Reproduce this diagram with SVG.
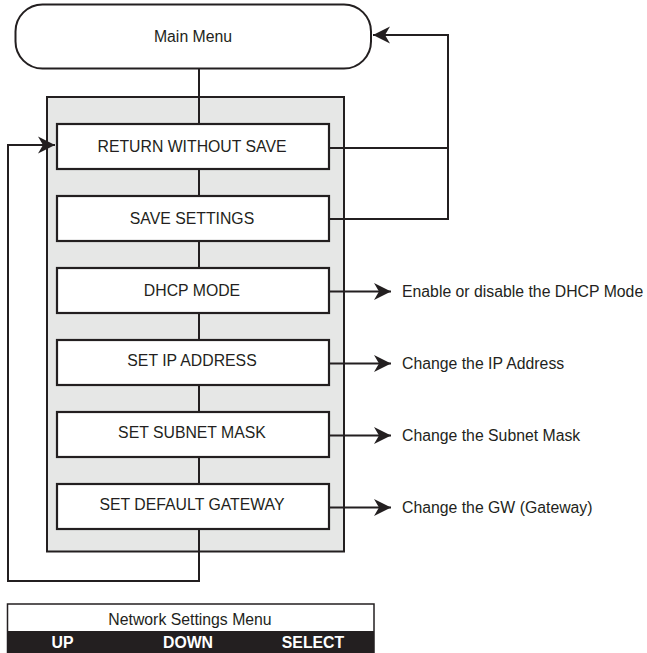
<svg xmlns="http://www.w3.org/2000/svg" width="647" height="653" viewBox="0 0 647 653">
<defs>
<style>
.ln{fill:none;stroke:#231f20;stroke-width:2}
.box{fill:#fff;stroke:#231f20;stroke-width:2.2}
.t{font-family:"Liberation Sans",Arial,sans-serif;font-size:15.8px;fill:#231f20;text-anchor:middle}
.d{font-family:"Liberation Sans",Arial,sans-serif;font-size:15.8px;fill:#231f20}
.b{font-family:"Liberation Sans",Arial,sans-serif;font-size:15.8px;font-weight:bold;fill:#fff;text-anchor:middle}
</style>
<marker id="ah" markerUnits="userSpaceOnUse" markerWidth="20" markerHeight="20" viewBox="-18 -10 20 20" refX="0" refY="0" orient="auto">
<path d="M0,0 L-17,-8.5 L-12,0 L-17,8.5 Z" fill="#231f20"/>
</marker>
</defs>
<rect width="647" height="653" fill="#fff"/>
<g id="panel">
<rect x="47" y="97" width="297" height="454.5" fill="#e6e7e6" stroke="#231f20" stroke-width="2"/>
</g>
<g id="connectors">
<path class="ln" d="M199,69 V124 M199,169 V196 M199,241 V268 M199,313 V340 M199,385 V412 M199,457 V484"/>
<path class="ln" d="M199,529 V581 H8 V145 H55" marker-end="url(#ah)"/>
<path class="ln" d="M329,148 H448 M329,219 H448 V35 H373" marker-end="url(#ah)"/>
<path class="ln" d="M329,291.5 H391" marker-end="url(#ah)"/>
<path class="ln" d="M329,363.5 H391" marker-end="url(#ah)"/>
<path class="ln" d="M329,435.5 H391" marker-end="url(#ah)"/>
<path class="ln" d="M329,507.5 H391" marker-end="url(#ah)"/>
</g>
<g id="main-menu">
<rect x="15.5" y="4.5" width="355.5" height="64" rx="27" ry="27" fill="#fff" stroke="#231f20" stroke-width="2"/>
<text class="t" x="193" y="41.5">Main Menu</text>
</g>
<g id="return-without-save">
<rect class="box" x="57" y="124" width="272" height="45"/>
<text class="t" x="192" y="151.5">RETURN WITHOUT SAVE</text>
</g>
<g id="save-settings">
<rect class="box" x="57" y="196" width="272" height="45"/>
<text class="t" x="192" y="223.5">SAVE SETTINGS</text>
</g>
<g id="dhcp-mode">
<rect class="box" x="57" y="268" width="272" height="45"/>
<text class="t" x="192" y="296">DHCP MODE</text>
</g>
<g id="set-ip-address">
<rect class="box" x="57" y="340" width="272" height="45"/>
<text class="t" x="192" y="365.5">SET IP ADDRESS</text>
</g>
<g id="set-subnet-mask">
<rect class="box" x="57" y="412" width="272" height="45"/>
<text class="t" x="192" y="437.5">SET SUBNET MASK</text>
</g>
<g id="set-default-gateway">
<rect class="box" x="57" y="484" width="272" height="45"/>
<text class="t" x="192" y="509.5">SET DEFAULT GATEWAY</text>
</g>
<g id="desc-dhcp"><text class="d" x="402" y="297">Enable or disable the DHCP Mode</text></g>
<g id="desc-ip"><text class="d" x="402" y="368.5">Change the IP Address</text></g>
<g id="desc-subnet"><text class="d" x="402" y="440.5">Change the Subnet Mask</text></g>
<g id="desc-gw"><text class="d" x="402" y="512.5">Change the GW (Gateway)</text></g>
<g id="network-settings-menu">
<rect x="7.5" y="604" width="366.5" height="50" fill="#fff" stroke="#231f20" stroke-width="1.5"/>
<rect x="7.5" y="631" width="366.5" height="23" fill="#231f20"/>
<text class="t" x="190" y="624.5">Network Settings Menu</text>
<text class="b" x="62.5" y="648">UP</text>
<text class="b" x="188" y="648">DOWN</text>
<text class="b" x="313" y="648">SELECT</text>
</g>
</svg>
